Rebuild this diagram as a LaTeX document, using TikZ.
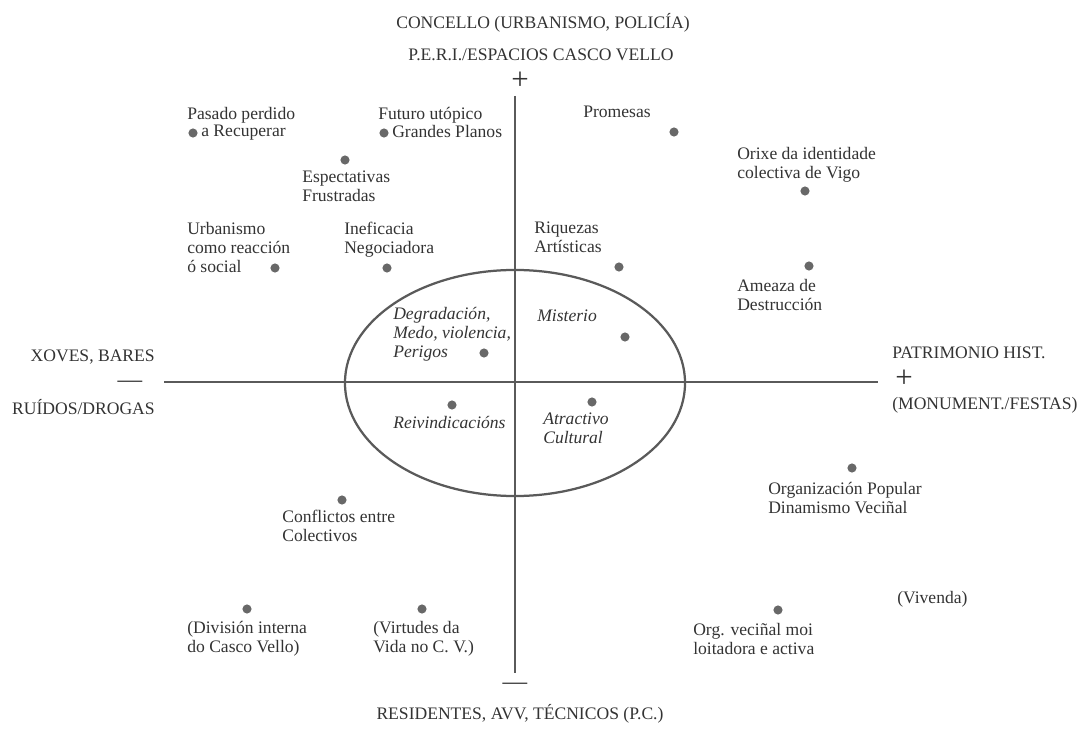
\documentclass[tikz,border=0pt]{standalone}
\usepackage{fontspec}
\setmainfont{Liberation Serif}
\usepackage{xcolor}
\usetikzlibrary{positioning}
\definecolor{axisgray}{HTML}{5A5A5A}
\definecolor{inkgray}{HTML}{333333}
\definecolor{dotgray}{HTML}{686868}

\begin{document}
\begin{tikzpicture}[x=0.025cm, y=-0.025cm,
  axis/.style={draw=axisgray, line width=1.9pt},
  dot/.style={circle, fill=dotgray, inner sep=0pt, minimum size=6.5pt},
  lbl/.style={anchor=north west, inner sep=0pt, align=left, text=inkgray, font=\fontsize{12.5}{13.5}\selectfont},
  lblit/.style={lbl, font=\fontsize{12.5}{13.5}\selectfont\itshape},
  caps/.style={inner sep=0pt, text=inkgray, font=\fontsize{12.5}{13.5}\selectfont},
  sign/.style={inner sep=0pt, text=inkgray, font=\fontsize{22}{22}\selectfont}]
\useasboundingbox (0, 0) rectangle (1088, 729);

\coordinate (top) at (515, 96);
\coordinate (bottom) at (515, 673);
\coordinate (left) at (164, 382);
\coordinate (right) at (878, 382);
\coordinate (centre) at (515, 383);
\draw[axis] (top) -- (bottom);
\draw[axis] (left) -- (right);
\draw[axis, line width=1.6pt] (centre) ellipse [x radius=4.25cm, y radius=2.825cm];

\node[caps] (concello) at (543, 23) {CONCELLO (URBANISMO, POLICÍA)};
\node[caps] (peri) at (541, 55) {P.E.R.I./ESPACIOS CASCO VELLO};
\node[sign] (plustop) at (520, 81) {+};
\node[caps, anchor=east] (xoves) at (155, 357) {XOVES, BARES};
\node[sign, font=\fontsize{17.5}{17.5}\selectfont] (dashleft) at (130, 384) {—};
\node[caps, anchor=east] (ruidos) at (155, 407) {RUÍDOS/DROGAS};
\node[caps, anchor=west] (patrimonio) at (892, 353) {PATRIMONIO HIST.};
\node[sign] (plusright) at (904, 379) {+};
\node[caps, anchor=west] (monument) at (892, 405) {(MONUMENT./FESTAS)};
\node[sign, font=\fontsize{17.5}{17.5}\selectfont] (dashbottom) at (515, 686) {—};
\node[caps] (residentes) at (520, 714) {RESIDENTES, AVV, TÉCNICOS (P.C.)};

\node[dot] (pasado) at (193, 133) {};
\node[lbl] (pasado-a) at (187, 107) {Pasado perdido};
\node[lbl] (pasado-b) at (201, 125) {a Recuperar};
\node[dot] (futuro) at (384, 133) {};
\node[lbl] (futuro-a) at (378, 107) {Futuro utópico};
\node[lbl] (futuro-b) at (392, 125) {Grandes Planos};
\node[dot] (espect) at (345, 160) {};
\node[lbl] (espect-t) at (302, 171) {Espectativas\\Frustradas};
\node[dot] (urban) at (275, 268) {};
\node[lbl] (urban-t) at (187, 222) {Urbanismo\\como reacción\\ó social};
\node[dot] (inef) at (387, 268) {};
\node[lbl] (inef-t) at (344, 222) {Ineficacia\\Negociadora};

\node[dot] (promesas) at (674, 132) {};
\node[lbl] (promesas-t) at (583, 106) {Promesas};
\node[dot] (orixe) at (805, 191) {};
\node[lbl] (orixe-t) at (737, 147) {Orixe da identidade\\colectiva de Vigo};
\node[dot] (riquezas) at (619, 267) {};
\node[lbl] (riquezas-t) at (534, 222) {Riquezas\\Artísticas};
\node[dot] (ameaza) at (809, 266) {};
\node[lbl] (ameaza-t) at (737, 279) {Ameaza de\\Destrucción};

\node[dot] (degrad) at (484, 353) {};
\node[lblit] (degrad-t) at (393, 307) {Degradación,\\Medo, violencia,\\Perigos};
\node[dot] (misterio) at (625, 337) {};
\node[lblit] (misterio-t) at (537, 310) {Misterio};
\node[dot] (reivind) at (452, 405) {};
\node[lblit] (reivind-t) at (393, 416) {Reivindicacións};
\node[dot] (atractivo) at (592, 402) {};
\node[lblit] (atractivo-t) at (543, 413) {Atractivo\\Cultural};

\node[dot] (orgpop) at (852, 468) {};
\node[lbl] (orgpop-t) at (768, 482) {Organización Popular\\Dinamismo Veciñal};
\node[dot] (conflictos) at (342, 500) {};
\node[lbl] (conflictos-t) at (282, 510) {Conflictos entre\\Colectivos};
\node[dot] (division) at (247, 609) {};
\node[lbl] (division-t) at (187, 621) {(División interna\\do Casco Vello)};
\node[dot] (virtudes) at (422, 609) {};
\node[lbl] (virtudes-t) at (373, 621) {(Virtudes da\\Vida no C. V.)};
\node[dot] (orgvec) at (778, 610) {};
\node[lbl] (orgvec-t) at (693, 623) {Org. veciñal moi\\loitadora e activa};
\node[lbl] (vivenda) at (897, 591) {(Vivenda)};
\end{tikzpicture}
\end{document}
